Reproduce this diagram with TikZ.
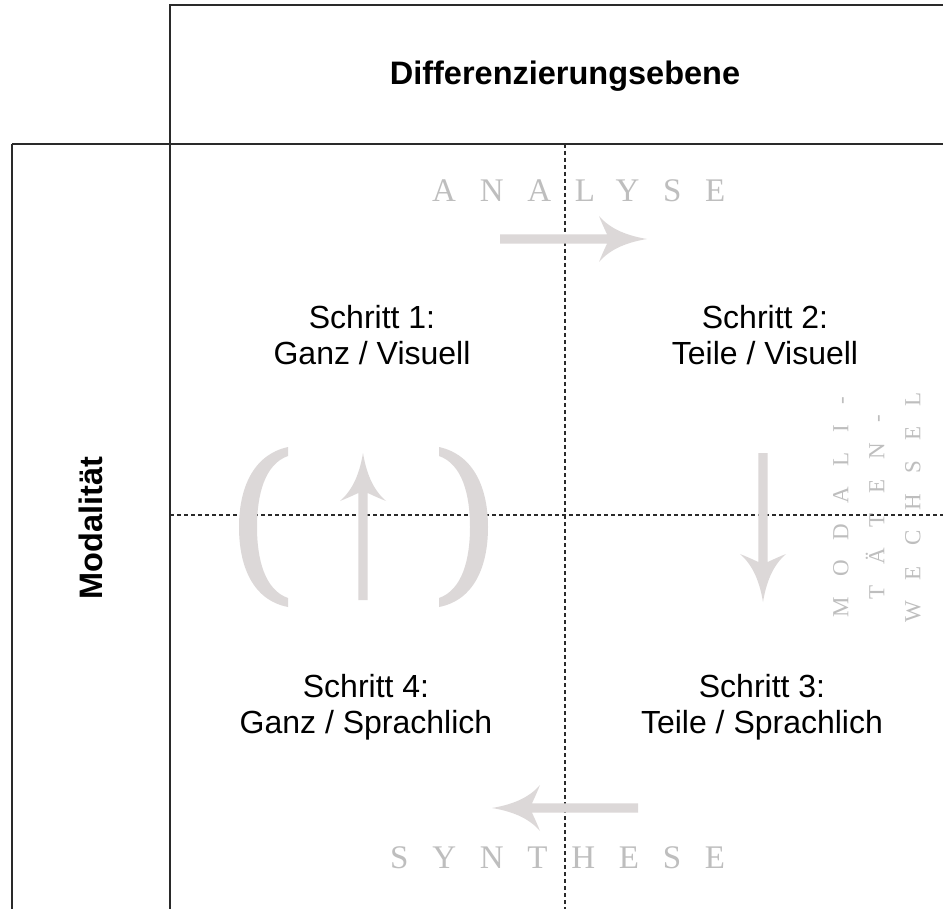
\documentclass[tikz,border=0pt]{standalone}
\usepackage{fontspec}
\setmainfont{Liberation Sans}
\newfontfamily\spacedserif[LetterSpace=72]{Liberation Serif}
\newfontfamily\spacedserifsmall[LetterSpace=88]{Liberation Serif}
\definecolor{linegrey}{HTML}{2A2A2A}
\definecolor{arrowgrey}{HTML}{DCD8D8}
\definecolor{textgrey}{HTML}{BEBEBE}
\tikzset{
  frame/.style={draw=linegrey, line width=1.9pt},
  dashline/.style={draw=linegrey, line width=1.1pt, dash pattern=on 4pt off 3pt},
  steptext/.style={align=center, font=\fontsize{32}{36}\selectfont, inner sep=0pt},
  headtext/.style={font=\bfseries\fontsize{32.5}{38}\selectfont, inner sep=0pt},
  greyword/.style={text=textgrey, font=\spacedserif\fontsize{33}{38}\selectfont, inner sep=0pt},
  greycol/.style={text=textgrey, align=center, font=\spacedserifsmall\fontsize{23}{36}\selectfont, inner sep=0pt},
  fatarrow/.pic={\fill[arrowgrey] (0,0) .. controls (-18,-3) and (-36,-9) .. (-48,-23)
      .. controls (-44,-13) and (-41,-7) .. (-40,-4.7) -- (-#1,-4.7) -- (-#1,4.7) -- (-40,4.7)
      .. controls (-41,7) and (-44,13) .. (-48,23) .. controls (-36,9) and (-18,3) .. (0,0) -- cycle;}
}
\begin{document}
\begin{tikzpicture}[x=1pt,y=-1pt]
\useasboundingbox (0,0) rectangle (943,909);
\fill[white] (0,0) rectangle (943,909);
% frame coordinates
\coordinate (tl) at (170,5);
\coordinate (tr) at (943,5);
\coordinate (ml) at (12,144);
\coordinate (mr) at (943,144);
\coordinate (bl) at (12,909);
\coordinate (bc) at (170,909);
\coordinate (dtop) at (565,144);
\coordinate (dbot) at (565,909);
\coordinate (hleft) at (170,515);
\coordinate (hright) at (943,515);
% solid frame
\draw[frame] (tr) -- (tl) -- (bc);
\draw[frame] (ml) -- (mr);
\draw[frame] (ml) -- (bl);
% dashed quadrant lines
\draw[dashline] (dtop) -- (dbot);
\draw[dashline] (hleft) -- (hright);
% headings
\node[headtext, anchor=base] (diff) at (565,85) {Differenzierungsebene};
\node[headtext, rotate=90] (moda) at (91,528) {Modalität};
% steps
\node[steptext] (s1) at (372,335) {Schritt 1:\\Ganz / Visuell};
\node[steptext] (s2) at (765,335) {Schritt 2:\\Teile / Visuell};
\node[steptext] (s3) at (762,707) {Schritt 3:\\Teile / Sprachlich};
\node[steptext] (s4) at (366,707) {Schritt 4:\\Ganz / Sprachlich};
% grey words
\node[greyword, anchor=base west] (ana) at (432,202) {ANALYSE};
\node[greyword, anchor=base west] (syn) at (390,868) {SYNTHESE};
\node[greycol, rotate=90] (mw) at (877,507) {MODALI-\\TÄTEN-\\WECHSEL};
% arrows
\pic (arrA) at (647,239) {fatarrow=147};
\pic[rotate=180] (arrS) at (492,808) {fatarrow=146};
\pic[rotate=-90] (arrD) at (763,602) {fatarrow=149};
\pic[rotate=90] (arrU) at (363,453) {fatarrow=147};
% brackets
\fill[arrowgrey] (288,447) .. controls (252,455) and (239,490) .. (239,527)
  .. controls (239,565) and (252,600) .. (288,607) -- (288,598)
  .. controls (265,590) and (257,560) .. (257,527)
  .. controls (257,494) and (265,464) .. (288,456) -- cycle;
\fill[arrowgrey] (439,447) .. controls (475,455) and (488,490) .. (488,527)
  .. controls (488,565) and (475,600) .. (439,607) -- (439,598)
  .. controls (462,590) and (470,560) .. (470,527)
  .. controls (470,494) and (462,464) .. (439,456) -- cycle;
\end{tikzpicture}
\end{document}
